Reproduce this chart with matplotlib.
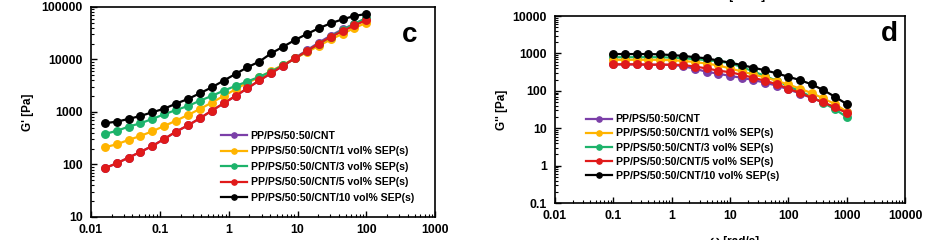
import matplotlib
matplotlib.use("Agg")
import matplotlib.pyplot as plt
from matplotlib.ticker import FixedLocator, FuncFormatter, LogLocator, NullFormatter

plt.rcParams['font.family'] = ['Liberation Sans', 'DejaVu Sans']
plt.rcParams['font.weight'] = 'bold'

# ---- panel c : G' vs frequency ----
freq_c = [0.0158, 0.0236, 0.0351, 0.0522, 0.0778, 0.116, 0.172, 0.257, 0.382, 0.569,
          0.846, 1.26, 1.87, 2.79, 4.15, 6.18, 9.2, 13.7, 20.4, 30.3, 45.2, 67.2, 100]
gc_cnt = [85, 105, 135, 173, 225, 306, 422, 557, 757, 1060, 1460, 2020, 2830, 3980,
          5500, 7590, 10700, 15000, 21000, 28500, 37500, 48000, 60000]
gc_1 = [212, 242, 293, 349, 429, 541, 684, 877, 1140, 1510, 2020, 2700, 3620, 4570,
        6030, 7940, 10500, 13800, 18200, 24000, 30900, 39800, 50100]
gc_3 = [381, 435, 526, 608, 736, 904, 1090, 1300, 1640, 2020, 2550, 3130, 3800, 4680,
        5890, 7760, 10500, 14500, 20000, 26900, 36300, 47900, 61700]
gc_5 = [85, 105, 135, 173, 225, 306, 422, 557, 757, 1060, 1460, 2020, 2830, 3980,
        5500, 7590, 10500, 14500, 20000, 26900, 34700, 44700, 56200]
gc_10 = [610, 653, 736, 839, 986, 1156, 1442, 1770, 2270, 2950, 3950, 5300, 7100, 9120,
         13100, 17500, 23500, 30600, 39300, 48900, 58200, 67500, 73600]

# ---- panel d : G'' vs frequency ----
freq_d = [0.1, 0.158, 0.251, 0.398, 0.631, 1, 1.58, 2.51, 3.98, 6.31, 10, 15.8, 25.1,
          39.8, 63.1, 100, 158, 251, 398, 631, 1000]
gd_cnt = [511, 511, 511, 501, 501, 495, 457, 389, 324, 288, 251, 224, 195, 166, 138,
          110, 85, 65, 49, 36, 27]
gd_1 = [676, 676, 676, 676, 676, 661, 631, 589, 537, 479, 398, 331, 275, 229, 186,
        148, 115, 87, 63, 44, 28]
gd_3 = [794, 794, 794, 794, 794, 776, 741, 708, 661, 617, 550, 437, 331, 251, 186,
        135, 98, 69, 48, 32, 20]
gd_5 = [511, 511, 511, 501, 501, 501, 490, 447, 398, 347, 316, 269, 224, 186, 151,
        115, 89, 65, 49, 36, 26]
gd_10 = [964, 964, 964, 964, 946, 906, 861, 794, 741, 646, 569, 490, 417, 355, 295,
         238, 195, 149, 105, 69.5, 44.4]

labels_c = ["PP/PS/50:50/CNT", "PP/PS/50:50/CNT/1 vol% SEP(s)", "PP/PS/50:50/CNT/3 vol% SEP(s)",
            "PP/PS/50:50/CNT/5 vol% SEP(s)", "PP/PS/50:50/CNT/10 vol% SEP(s)"]
labels_d = labels_c
colors = ["#7B3FA8", "#FFB400", "#1DB36B", "#E01A1A", "#000000"]

fig = plt.figure(figsize=(9.38, 2.4), dpi=100)
ax1 = fig.add_axes([0.097, 0.096, 0.367, 0.875])
ax2 = fig.add_axes([0.5917, 0.154, 0.3731, 0.779])


def fmt(v, pos):
    return "%g" % v


def style(ax, xt, yt):
    ax.set_xscale('log')
    ax.set_yscale('log')
    ax.set_xlim(xt[0], xt[-1])
    ax.set_ylim(yt[0], yt[-1])
    ax.xaxis.set_major_locator(FixedLocator(xt))
    ax.yaxis.set_major_locator(FixedLocator(yt))
    ax.xaxis.set_major_formatter(FuncFormatter(fmt))
    ax.yaxis.set_major_formatter(FuncFormatter(fmt))
    ax.xaxis.set_minor_locator(LogLocator(base=10, subs=range(2, 10)))
    ax.yaxis.set_minor_locator(LogLocator(base=10, subs=range(2, 10)))
    ax.xaxis.set_minor_formatter(NullFormatter())
    ax.yaxis.set_minor_formatter(NullFormatter())
    ax.tick_params(which='both', direction='in', top=False, right=False, labelsize=8.8)
    ax.tick_params(which='major', length=4, width=1)
    ax.tick_params(which='minor', length=2, width=0.8)
    ax.tick_params(axis='x', pad=5)
    ax.tick_params(axis='y', pad=6)
    for s in ax.spines.values():
        s.set_linewidth(1.2)


# panel c
series_c = [gc_cnt, gc_1, gc_3, gc_5, gc_10]
for vals, lab, col in zip(series_c, labels_c, colors):
    ax1.plot(freq_c, vals, '-o', color=col, ms=5.4, lw=1.6, label=lab)
style(ax1, [0.01, 0.1, 1, 10, 100, 1000], [10, 100, 1000, 10000, 100000])
ax1.set_ylabel("G' [Pa]", fontsize=8.5, fontweight='bold', labelpad=5)
ax1.text(0.925, 0.865, "c", transform=ax1.transAxes, fontsize=20, fontweight='bold',
         ha='center', va='center')
ax1.legend(loc='upper left', bbox_to_anchor=(0.378, 0.41), frameon=False, fontsize=7.6,
           numpoints=1, handlelength=2.5, handletextpad=0.3, labelspacing=0.52,
           borderpad=0, borderaxespad=0, markerscale=0.7)

# panel d
order_d = [0, 2, 1, 3, 4]
series_d = [gd_cnt, gd_1, gd_3, gd_5, gd_10]
lines = {}
for i in order_d:
    lines[i], = ax2.plot(freq_d, series_d[i], '-o', color=colors[i], ms=5.4, lw=1.6,
                         label=labels_d[i])
style(ax2, [0.01, 0.1, 1, 10, 100, 1000, 10000], [0.1, 1, 10, 100, 1000, 10000])
ax2.set_ylabel("G'' [Pa]", fontsize=8.5, fontweight='bold', labelpad=3)
ax2.text(0.955, 0.905, "d", transform=ax2.transAxes, fontsize=20, fontweight='bold',
         ha='center', va='center')
ax2.legend([lines[i] for i in range(5)], labels_d, loc='upper left',
           bbox_to_anchor=(0.0886, 0.475), frameon=False, fontsize=7.6, numpoints=1,
           handlelength=2.5, handletextpad=0.3, labelspacing=0.4, borderpad=0,
           borderaxespad=0, markerscale=0.7)

# axis titles cut off by the crop of the original figure
fig.text(0.783, 1 - 236 / 240, "ω [rad/s]", ha='center', va='top', fontsize=8.5,
         fontweight='bold')
fig.text(0.79, 1 + 1 / 240, "ω [rad/s]", ha='center', va='baseline', fontsize=8.5,
         fontweight='bold')

fig.savefig("out.png", dpi=100)
